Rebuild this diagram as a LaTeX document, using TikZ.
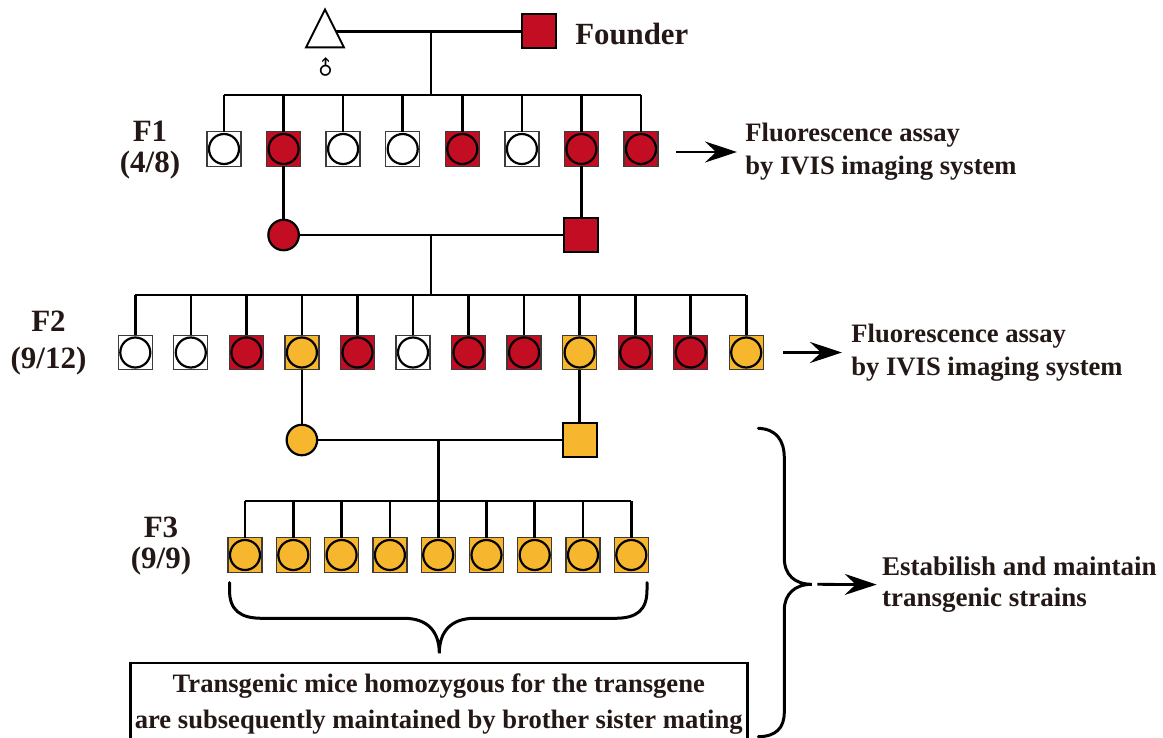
\documentclass[tikz,border=0pt]{standalone}
\usepackage{fontspec}
\setmainfont{Liberation Serif}
\newfontfamily\symbolfont{DejaVu Sans}
\usetikzlibrary{shapes.geometric,arrows.meta,backgrounds,positioning}

\newlength{\du}
\setlength{\du}{0.5\unitlength}

\definecolor{tgred}{RGB}{195,13,35}
\definecolor{tgyellow}{RGB}{246,182,45}
\definecolor{inkcolor}{RGB}{35,24,21}
\definecolor{rimcolor}{RGB}{62,58,57}

\tikzset{
  pup/.style={rectangle, draw=rimcolor, line width=1.3\du, fill=#1,
    minimum width=34\du, minimum height=34.5\du, inner sep=0pt, outer sep=0pt,
    path picture={\draw[black, line width=2.2\du, fill=#1]
      (path picture bounding box.center) circle[radius=15\du];}},
  dam/.style={circle, draw=black, line width=2.2\du, fill=#1,
    minimum size=30.5\du, inner sep=0pt, outer sep=0pt},
  sire/.style={rectangle, draw=black, line width=2\du, fill=#1,
    minimum size=34\du, inner sep=0pt, outer sep=0pt},
  wildmale/.style={isosceles triangle, isosceles triangle stretches,
    shape border rotate=90, draw=black, line width=2\du, fill=white,
    minimum width=38\du, minimum height=38\du, inner sep=0pt, outer sep=0pt},
  kin/.style={line width=2.6\du, black},
  curly/.style={line width=3\du, black, line cap=round},
  arr/.style={line width=2.8\du, black, -{Stealth[length=16pt, width=10.5pt, inset=5.5pt]}},
  gen/.style={text=inkcolor, align=center, inner sep=0pt,
    font=\bfseries\fontsize{15.5}{15.5}\selectfont},
  note/.style={text=inkcolor, align=left, inner sep=0pt, anchor=west,
    font=\bfseries\fontsize{13.3}{16.5}\selectfont},
}

\begin{document}
\begin{tikzpicture}
\pgftransformyscale{-1.000000}
\useasboundingbox (0\du,0\du) rectangle (1163\du,738\du);
\clip (0\du,0\du) rectangle (1163\du,738\du);

% P generation
\node[wildmale, anchor=apex] (wt) at (325\du,9.5\du) {};
\node[sire=tgred] (founder) at (539\du,31.5\du) {};
\node[text=inkcolor, inner sep=0pt, anchor=west, font=\bfseries\fontsize{15.4}{18}\selectfont] (fname) at (575\du,34\du) {Founder};
\node[inner sep=0pt, rotate=45, font=\symbolfont\fontsize{10}{10}\selectfont] (wtsign) at (325.7\du,68.5\du) {♂};
\coordinate (m0) at (431\du,31.5\du);
\coordinate (f1sib) at (431\du,95\du);

% F1
\node[gen] (g1) at (150\du,150\du) {F1\\(4/8)};
\node[pup=white] (f1a) at (224\du,149\du) {};
\node[pup=tgred] (f1b) at (283.6\du,149\du) {};
\node[pup=white] (f1c) at (343.1\du,149\du) {};
\node[pup=white] (f1d) at (402.7\du,149\du) {};
\node[pup=tgred] (f1e) at (462.3\du,149\du) {};
\node[pup=white] (f1f) at (521.9\du,149\du) {};
\node[pup=tgred] (f1g) at (581.4\du,149\du) {};
\node[pup=tgred] (f1h) at (641\du,149\du) {};
\node[note] (fluor1) at (745\du,152\du) {Fluorescence assay\\by IVIS imaging system};
\node[dam=tgred] (f1dam) at (283.6\du,235\du) {};
\node[sire=tgred] (f1sire) at (581.4\du,235\du) {};
\coordinate (m1) at (431\du,235\du);
\coordinate (f2sib) at (431\du,295\du);

% F2
\node[gen, font=\bfseries\fontsize{15.5}{18.5}\selectfont] (g2) at (48.5\du,343.5\du) {F2\\(9/12)};
\node[pup=white] (f2a) at (135.3\du,352.5\du) {};
\node[pup=white] (f2b) at (190.8\du,352.5\du) {};
\node[pup=tgred] (f2c) at (246.4\du,352.5\du) {};
\node[pup=tgyellow] (f2d) at (301.9\du,352.5\du) {};
\node[pup=tgred] (f2e) at (357.5\du,352.5\du) {};
\node[pup=white] (f2f) at (413\du,352.5\du) {};
\node[pup=tgred] (f2g) at (468.5\du,352.5\du) {};
\node[pup=tgred] (f2h) at (524.1\du,352.5\du) {};
\node[pup=tgyellow] (f2i) at (579.6\du,352.5\du) {};
\node[pup=tgred] (f2j) at (635.2\du,352.5\du) {};
\node[pup=tgred] (f2k) at (690.7\du,352.5\du) {};
\node[pup=tgyellow] (f2l) at (746.2\du,352.5\du) {};
\node[note] (fluor2) at (851\du,352.5\du) {Fluorescence assay\\by IVIS imaging system};
\node[dam=tgyellow] (f2dam) at (301.9\du,440\du) {};
\node[sire=tgyellow] (f2sire) at (579.6\du,440\du) {};
\coordinate (f3sib) at (438.2\du,501\du);

% F3
\node[gen] (g3) at (161\du,546\du) {F3\\(9/9)};
\node[pup=tgyellow] (f3a) at (245\du,555\du) {};
\node[pup=tgyellow] (f3b) at (293.3\du,555\du) {};
\node[pup=tgyellow] (f3c) at (341.6\du,555\du) {};
\node[pup=tgyellow] (f3d) at (389.9\du,555\du) {};
\node[pup=tgyellow] (f3e) at (438.2\du,555\du) {};
\node[pup=tgyellow] (f3f) at (486.5\du,555\du) {};
\node[pup=tgyellow] (f3g) at (534.7\du,555\du) {};
\node[pup=tgyellow] (f3h) at (583\du,555\du) {};
\node[pup=tgyellow] (f3i) at (631.3\du,555\du) {};

% notes
\node[draw=black, line width=2.5\du, text=inkcolor, align=center, anchor=north,
  inner xsep=2\du, inner ysep=11\du, minimum width=617\du,
  font=\bfseries\fontsize{13.3}{18}\selectfont] (homo) at (438.8\du,661.7\du)
  {Transgenic mice homozygous for the transgene\\are subsequently maintained by brother sister mating};
\node[note, font=\bfseries\fontsize{13.5}{15.9}\selectfont] (estab) at (881.7\du,584.6\du) {Estabilish and maintain\\transgenic strains};
\coordinate (bigtip) at (811.7\du,584.3\du);

% matings and sibships
\begin{scope}[on background layer]
\draw[kin] (wt.center |- founder) -- (founder);
\end{scope}
\draw[kin] (m0) -- (f1sib);
\draw[kin] (f1a.north |- f1sib) -- (f1h.north |- f1sib);
\draw[kin] (f1a.north) -- (f1a.north |- f1sib);
\draw[kin] (f1b.north) -- (f1b.north |- f1sib);
\draw[kin] (f1c.north) -- (f1c.north |- f1sib);
\draw[kin] (f1d.north) -- (f1d.north |- f1sib);
\draw[kin] (f1e.north) -- (f1e.north |- f1sib);
\draw[kin] (f1f.north) -- (f1f.north |- f1sib);
\draw[kin] (f1g.north) -- (f1g.north |- f1sib);
\draw[kin] (f1h.north) -- (f1h.north |- f1sib);
\draw[kin] (f1b) -- (f1dam);
\draw[kin] (f1g) -- (f1sire);
\draw[kin] (f1dam) -- (f1sire);
\draw[kin] (m1) -- (f2sib);
\draw[kin] (f2a.north |- f2sib) -- (f2l.north |- f2sib);
\draw[kin] (f2a.north) -- (f2a.north |- f2sib);
\draw[kin] (f2b.north) -- (f2b.north |- f2sib);
\draw[kin] (f2c.north) -- (f2c.north |- f2sib);
\draw[kin] (f2d.north) -- (f2d.north |- f2sib);
\draw[kin] (f2e.north) -- (f2e.north |- f2sib);
\draw[kin] (f2f.north) -- (f2f.north |- f2sib);
\draw[kin] (f2g.north) -- (f2g.north |- f2sib);
\draw[kin] (f2h.north) -- (f2h.north |- f2sib);
\draw[kin] (f2i.north) -- (f2i.north |- f2sib);
\draw[kin] (f2j.north) -- (f2j.north |- f2sib);
\draw[kin] (f2k.north) -- (f2k.north |- f2sib);
\draw[kin] (f2l.north) -- (f2l.north |- f2sib);
\draw[kin] (f2d) -- (f2dam);
\draw[kin] (f2i) -- (f2sire);
\draw[kin] (f2dam) -- (f2sire);
\draw[kin] (f3sib |- f2dam) -- (f3sib);
\draw[kin] (f3a.north |- f3sib) -- (f3i.north |- f3sib);
\draw[kin] (f3a.north) -- (f3a.north |- f3sib);
\draw[kin] (f3b.north) -- (f3b.north |- f3sib);
\draw[kin] (f3c.north) -- (f3c.north |- f3sib);
\draw[kin] (f3d.north) -- (f3d.north |- f3sib);
\draw[kin] (f3e.north) -- (f3e.north |- f3sib);
\draw[kin] (f3f.north) -- (f3f.north |- f3sib);
\draw[kin] (f3g.north) -- (f3g.north |- f3sib);
\draw[kin] (f3h.north) -- (f3h.north |- f3sib);
\draw[kin] (f3i.north) -- (f3i.north |- f3sib);

% arrows
\draw[arr, shorten <=9pt, shorten >=4pt] (fluor1.west -| f1h.east) -- (fluor1.west);
\draw[arr, shorten <=10pt, shorten >=4.5pt] (fluor2.west -| f2l.east) -- (fluor2.west);
\draw[arr, shorten <=2.8pt, shorten >=2.5pt] (bigtip) -- (estab.west);

% braces
\draw[curly] (229.5\du,582.7\du) -- (229.5\du,590\du) .. controls (229.5\du,610\du) and (240\du,618.3\du) .. (262\du,618.3\du)
  -- (404\du,618.3\du) .. controls (428\du,618.3\du) and (439.3\du,632\du) .. (439.3\du,653.3\du)
  .. controls (439.3\du,632\du) and (450.6\du,618.3\du) .. (474.6\du,618.3\du)
  -- (615\du,618.3\du) .. controls (637\du,618.3\du) and (647\du,610\du) .. (647\du,590\du) -- (647\du,582.7\du);
\draw[curly] (758.4\du,428.3\du) .. controls (776\du,429\du) and (784.3\du,440\du) .. (784.3\du,458\du)
  -- (784.3\du,558\du) .. controls (784.3\du,575\du) and (795\du,584.3\du) .. (bigtip)
  .. controls (795\du,584.3\du) and (784.3\du,594\du) .. (784.3\du,610\du)
  -- (784.3\du,712\du) .. controls (784.3\du,728\du) and (776\du,736.5\du) .. (758.3\du,736.7\du);
\end{tikzpicture}
\end{document}
